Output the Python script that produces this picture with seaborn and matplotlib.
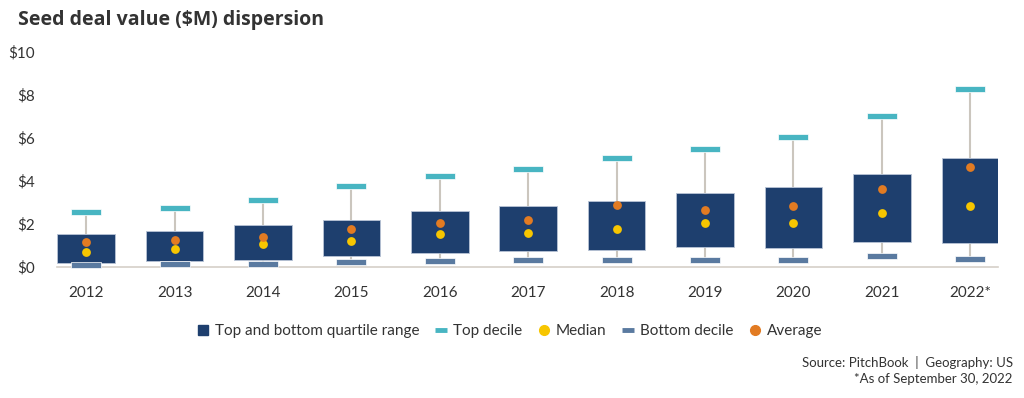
import numpy as np
import pandas as pd
import matplotlib.pyplot as plt
from matplotlib.lines import Line2D
import seaborn as sns

years = ["2012", "2013", "2014", "2015", "2016", "2017", "2018", "2019", "2020", "2021", "2022*"]
top_decile = [2.53, 2.72, 3.09, 3.74, 4.22, 4.53, 5.04, 5.46, 6.02, 7.01, 8.27]
top_quartile = [1.51, 1.66, 1.94, 2.16, 2.60, 2.82, 3.04, 3.43, 3.72, 4.30, 5.04]
bottom_quartile = [0.16, 0.26, 0.31, 0.51, 0.64, 0.73, 0.78, 0.90, 0.86, 1.16, 1.12]
bottom_decile = [0.06, 0.12, 0.12, 0.20, 0.25, 0.30, 0.30, 0.30, 0.30, 0.48, 0.36]
average = [1.16, 1.24, 1.40, 1.74, 2.03, 2.19, 2.88, 2.64, 2.84, 3.60, 4.62]
median = [0.70, 0.82, 1.04, 1.21, 1.52, 1.57, 1.77, 2.02, 2.02, 2.51, 2.81]

df = pd.DataFrame({
    "year": years, "top_decile": top_decile, "q3": top_quartile, "q1": bottom_quartile,
    "bottom_decile": bottom_decile, "average": average, "median": median,
})
df["x"] = np.arange(len(df))

NAVY = "#1e3f6e"
TEAL = "#48b5c2"
SLATE = "#5a7aa0"
YELLOW = "#f7c600"
ORANGE = "#e27b22"
WHISKER = "#cbc6be"
TEXT = "#333333"

sns.set_theme(style="white")
plt.rcParams["font.family"] = ["Lato", "DejaVu Sans"]

fig = plt.figure(figsize=(10.24, 3.98), dpi=100)
ax = fig.add_axes([0.0557, 0.330, 0.919, 0.540])

# whiskers
ax.vlines(df["x"], df["q3"], df["top_decile"], color=WHISKER, lw=1.5, zorder=1)
ax.vlines(df["x"], df["bottom_decile"], df["q1"], color=WHISKER, lw=1.5, zorder=1)

# quartile boxes
ax.bar(df["x"], df["q3"] - df["q1"], bottom=df["q1"], width=0.65,
       color=NAVY, edgecolor="#b8c4d6", linewidth=0.6, zorder=2)

# decile marks
mark_h = 0.27
ax.bar(df["x"], mark_h, bottom=df["top_decile"] - mark_h / 2, width=0.34,
       color=TEAL, edgecolor="white", linewidth=0.5, zorder=3, clip_on=False)
ax.bar(df["x"], mark_h, bottom=df["bottom_decile"] - mark_h / 2, width=0.34,
       color=SLATE, edgecolor="white", linewidth=0.5, zorder=3, clip_on=False)

sns.scatterplot(data=df, x="x", y="median", color=YELLOW, s=40, linewidth=0,
                zorder=4, ax=ax, clip_on=False)
sns.scatterplot(data=df, x="x", y="average", color=ORANGE, s=40, linewidth=0,
                zorder=4, ax=ax, clip_on=False)

ax.set_xlim(-0.33, 10.315)
ax.set_ylim(0, 10)
ax.set_xticks(df["x"])
ax.set_xticklabels(years, fontsize=11, color=TEXT)
ax.set_yticks(range(0, 11, 2))
ax.set_yticklabels([f"${v}" for v in range(0, 11, 2)], fontsize=11, color=TEXT)
ax.tick_params(axis="both", length=0)
ax.tick_params(axis="y", pad=16)
ax.tick_params(axis="x", pad=14)
ax.set_xlabel("")
ax.set_ylabel("")
for side in ["top", "right", "left"]:
    ax.spines[side].set_visible(False)
ax.spines["bottom"].set_color("#d6d0c8")
ax.spines["bottom"].set_linewidth(1.2)

handles = [
    Line2D([], [], ls="", marker="s", ms=7, color=NAVY),
    Line2D([], [], ls="", marker="_", ms=9, mew=3.5, color=TEAL),
    Line2D([], [], ls="", marker="o", ms=7, color=YELLOW),
    Line2D([], [], ls="", marker="_", ms=9, mew=3.5, color=SLATE),
    Line2D([], [], ls="", marker="o", ms=7, color=ORANGE),
]
labels = ["Top and bottom quartile range", "Top decile", "Median", "Bottom decile", "Average"]
fig.legend(handles, labels, loc="center", bbox_to_anchor=(0.497, 0.168), ncol=5,
           frameon=False, fontsize=11, handletextpad=0.3, columnspacing=0.9,
           handlelength=1.0, labelcolor=TEXT)

fig.text(0.018, 0.95, "Seed deal value ($M) dispersion", fontsize=14, fontweight="bold",
         color=TEXT, va="center", ha="left", family=["Open Sans", "DejaVu Sans"])
fig.text(0.989, 0.09, "Source: PitchBook  |  Geography: US", fontsize=9.5, color=TEXT,
         ha="right", va="center")
fig.text(0.989, 0.048, "*As of September 30, 2022", fontsize=9.5, color=TEXT,
         ha="right", va="center")

fig.savefig("out.png", dpi=100)
